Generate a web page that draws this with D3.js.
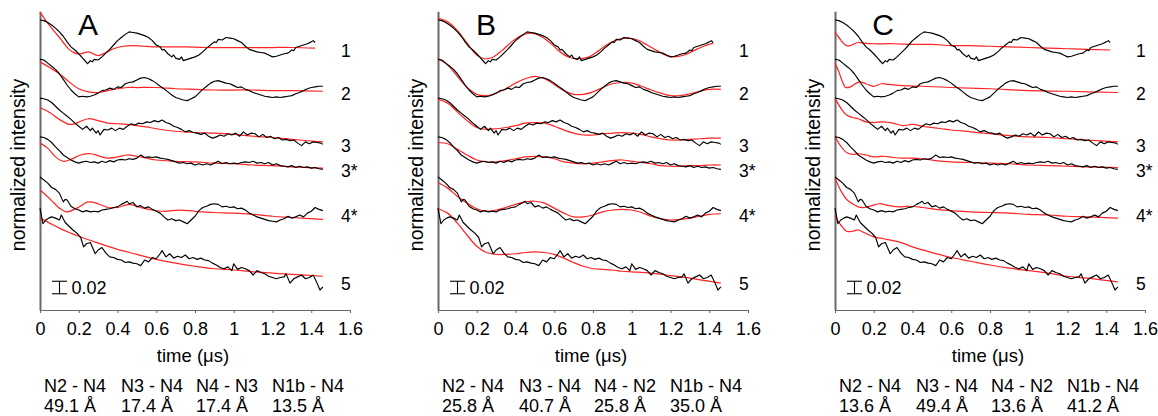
<!DOCTYPE html>
<html>
<head>
<meta charset="utf-8">
<script src="https://cdn.jsdelivr.net/npm/d3@7"></script>
<style>
  body { margin: 0; background: #fff; }
  text { font-family: "Liberation Sans", Arial, Helvetica, sans-serif; fill: #000; }
</style>
</head>
<body>
<svg id="chart" width="1158" height="416"></svg>
<script>
// ---- labels ----
const panelNames = ["A", "B", "C"];
const traceNames = ["1", "2", "3", "3*", "4*", "5"];
const timeTicks = [0, 0.2, 0.4, 0.6, 0.8, 1, 1.2, 1.4, 1.6];
const pairsA = ["N2 - N4", "N3 - N4", "N4 - N3", "N1b - N4"];
const pairsB = ["N2 - N4", "N3 - N4", "N4 - N2", "N1b - N4"];
const pairsC = ["N2 - N4", "N3 - N4", "N4 - N2", "N1b - N4"];
const distA = ["49.1 Å", "17.4 Å", "17.4 Å", "13.5 Å"];
const distB = ["25.8 Å", "40.7 Å", "25.8 Å", "35.0 Å"];
const distC = ["13.6 Å", "49.4 Å", "13.6 Å", "41.2 Å"];
const scaleBarValue = 0.02;

// ---- measured traces [time (µs), normalized intensity incl. stacking offset] ----
const exp1 = [[0,0.464],[0.02,0.463],[0.04,0.460],[0.06,0.456],[0.08,0.451],[0.10,0.445],[0.12,0.438],[0.14,0.429],[0.16,0.421],[0.18,0.416],[0.20,0.410],[0.22,0.403],[0.24,0.396],[0.245,0.394],[0.26,0.399],[0.27,0.397],[0.28,0.401],[0.30,0.400],[0.32,0.405],[0.34,0.411],[0.36,0.417],[0.38,0.424],[0.40,0.431],[0.42,0.436],[0.44,0.441],[0.46,0.445],[0.48,0.444],[0.50,0.443],[0.52,0.441],[0.54,0.439],[0.56,0.436],[0.58,0.431],[0.60,0.424],[0.62,0.421],[0.63,0.416],[0.64,0.417],[0.66,0.410],[0.68,0.405],[0.69,0.408],[0.70,0.403],[0.72,0.401],[0.73,0.405],[0.74,0.399],[0.76,0.401],[0.78,0.403],[0.80,0.405],[0.82,0.408],[0.84,0.413],[0.86,0.419],[0.88,0.424],[0.90,0.429],[0.91,0.428],[0.92,0.433],[0.94,0.432],[0.96,0.436],[0.98,0.435],[1.00,0.434],[1.02,0.431],[1.04,0.428],[1.06,0.422],[1.08,0.417],[1.10,0.415],[1.12,0.413],[1.14,0.412],[1.16,0.411],[1.18,0.408],[1.20,0.405],[1.22,0.406],[1.24,0.408],[1.26,0.410],[1.28,0.411],[1.30,0.416],[1.31,0.415],[1.32,0.420],[1.34,0.422],[1.36,0.424],[1.38,0.426],[1.40,0.429],[1.41,0.431],[1.42,0.428]];
const exp2 = [[0,0.401],[0.02,0.400],[0.04,0.395],[0.06,0.390],[0.08,0.385],[0.10,0.378],[0.12,0.369],[0.14,0.360],[0.16,0.352],[0.18,0.346],[0.20,0.341],[0.22,0.342],[0.24,0.341],[0.26,0.342],[0.28,0.344],[0.30,0.347],[0.32,0.351],[0.34,0.352],[0.36,0.355],[0.38,0.353],[0.40,0.357],[0.42,0.356],[0.44,0.362],[0.46,0.364],[0.48,0.365],[0.50,0.368],[0.52,0.371],[0.54,0.372],[0.56,0.370],[0.58,0.367],[0.60,0.363],[0.62,0.358],[0.64,0.354],[0.66,0.349],[0.68,0.344],[0.70,0.340],[0.72,0.338],[0.74,0.336],[0.76,0.335],[0.78,0.338],[0.80,0.341],[0.82,0.347],[0.84,0.353],[0.86,0.358],[0.88,0.363],[0.90,0.366],[0.92,0.367],[0.94,0.365],[0.96,0.363],[0.98,0.362],[1.00,0.359],[1.02,0.356],[1.04,0.357],[1.06,0.353],[1.08,0.351],[1.10,0.348],[1.12,0.346],[1.14,0.344],[1.16,0.342],[1.18,0.341],[1.20,0.340],[1.22,0.341],[1.24,0.340],[1.26,0.341],[1.28,0.342],[1.30,0.343],[1.32,0.346],[1.34,0.348],[1.36,0.351],[1.38,0.354],[1.40,0.356],[1.42,0.357],[1.44,0.358],[1.46,0.358]];
const exp3 = [[0,0.339],[0.02,0.338],[0.04,0.336],[0.06,0.332],[0.08,0.326],[0.10,0.320],[0.12,0.315],[0.14,0.310],[0.16,0.305],[0.18,0.299],[0.20,0.294],[0.22,0.289],[0.24,0.294],[0.26,0.287],[0.27,0.291],[0.29,0.283],[0.30,0.287],[0.31,0.280],[0.33,0.289],[0.35,0.288],[0.37,0.291],[0.39,0.287],[0.41,0.291],[0.43,0.289],[0.45,0.294],[0.47,0.298],[0.49,0.296],[0.51,0.299],[0.53,0.298],[0.55,0.301],[0.57,0.300],[0.59,0.303],[0.61,0.301],[0.63,0.304],[0.65,0.300],[0.67,0.298],[0.69,0.294],[0.71,0.292],[0.73,0.289],[0.75,0.285],[0.77,0.287],[0.79,0.284],[0.81,0.283],[0.83,0.281],[0.85,0.283],[0.87,0.278],[0.89,0.275],[0.91,0.277],[0.93,0.280],[0.95,0.278],[0.97,0.282],[0.99,0.280],[1.01,0.283],[1.03,0.278],[1.05,0.285],[1.07,0.280],[1.09,0.283],[1.11,0.282],[1.13,0.277],[1.15,0.281],[1.17,0.276],[1.19,0.278],[1.21,0.274],[1.23,0.276],[1.25,0.272],[1.27,0.273],[1.29,0.271],[1.31,0.272],[1.33,0.267],[1.35,0.263],[1.37,0.269],[1.39,0.266],[1.41,0.269],[1.43,0.268],[1.45,0.267],[1.46,0.265]];
const exp3s = [[0,0.277],[0.02,0.276],[0.04,0.273],[0.06,0.268],[0.08,0.261],[0.10,0.255],[0.12,0.248],[0.14,0.244],[0.16,0.240],[0.18,0.237],[0.20,0.235],[0.22,0.237],[0.24,0.238],[0.26,0.236],[0.28,0.237],[0.30,0.235],[0.32,0.238],[0.34,0.236],[0.36,0.239],[0.38,0.237],[0.40,0.240],[0.42,0.241],[0.44,0.240],[0.46,0.242],[0.48,0.241],[0.50,0.243],[0.52,0.248],[0.54,0.244],[0.56,0.245],[0.58,0.244],[0.60,0.245],[0.62,0.243],[0.64,0.242],[0.66,0.241],[0.68,0.239],[0.70,0.237],[0.72,0.235],[0.74,0.236],[0.76,0.234],[0.78,0.235],[0.80,0.232],[0.82,0.234],[0.84,0.232],[0.86,0.234],[0.88,0.232],[0.90,0.235],[0.92,0.238],[0.94,0.234],[0.96,0.236],[0.98,0.234],[1.00,0.235],[1.02,0.234],[1.04,0.236],[1.06,0.237],[1.08,0.236],[1.10,0.238],[1.12,0.235],[1.14,0.236],[1.16,0.234],[1.18,0.236],[1.20,0.232],[1.22,0.234],[1.24,0.231],[1.26,0.230],[1.28,0.229],[1.30,0.231],[1.32,0.228],[1.34,0.230],[1.36,0.228],[1.38,0.229],[1.40,0.227],[1.42,0.228],[1.44,0.226],[1.46,0.225]];
const exp4s = [[0,0.213],[0.02,0.208],[0.04,0.203],[0.06,0.196],[0.08,0.193],[0.10,0.187],[0.12,0.173],[0.13,0.177],[0.14,0.176],[0.16,0.166],[0.18,0.162],[0.20,0.160],[0.22,0.157],[0.24,0.159],[0.26,0.157],[0.28,0.158],[0.30,0.157],[0.32,0.160],[0.34,0.161],[0.36,0.162],[0.38,0.164],[0.40,0.165],[0.42,0.169],[0.44,0.172],[0.45,0.174],[0.46,0.170],[0.48,0.172],[0.50,0.165],[0.52,0.167],[0.54,0.163],[0.56,0.165],[0.58,0.161],[0.60,0.158],[0.62,0.155],[0.64,0.149],[0.66,0.144],[0.68,0.146],[0.70,0.143],[0.72,0.144],[0.74,0.141],[0.76,0.138],[0.78,0.144],[0.80,0.150],[0.82,0.159],[0.84,0.164],[0.86,0.166],[0.88,0.169],[0.90,0.170],[0.92,0.169],[0.94,0.165],[0.96,0.166],[0.98,0.164],[1.00,0.165],[1.02,0.162],[1.04,0.163],[1.06,0.160],[1.08,0.155],[1.10,0.152],[1.12,0.149],[1.14,0.147],[1.16,0.145],[1.18,0.143],[1.20,0.142],[1.22,0.141],[1.24,0.144],[1.26,0.146],[1.28,0.150],[1.30,0.147],[1.32,0.149],[1.34,0.152],[1.36,0.149],[1.38,0.155],[1.40,0.158],[1.42,0.164],[1.44,0.161],[1.46,0.159]];
const exp5 = [[0,0.163],[0.015,0.138],[0.03,0.144],[0.045,0.147],[0.06,0.149],[0.08,0.147],[0.10,0.144],[0.11,0.152],[0.13,0.140],[0.15,0.134],[0.17,0.128],[0.19,0.123],[0.21,0.116],[0.225,0.101],[0.24,0.106],[0.26,0.108],[0.285,0.090],[0.30,0.096],[0.32,0.100],[0.34,0.091],[0.36,0.085],[0.38,0.084],[0.40,0.081],[0.42,0.080],[0.44,0.076],[0.46,0.077],[0.48,0.075],[0.50,0.074],[0.52,0.071],[0.54,0.080],[0.56,0.077],[0.58,0.084],[0.60,0.082],[0.62,0.090],[0.63,0.095],[0.65,0.085],[0.67,0.090],[0.69,0.083],[0.71,0.086],[0.73,0.084],[0.75,0.088],[0.77,0.082],[0.79,0.084],[0.81,0.081],[0.83,0.083],[0.85,0.080],[0.87,0.079],[0.89,0.075],[0.91,0.072],[0.93,0.068],[0.95,0.066],[0.97,0.069],[0.99,0.063],[1.00,0.074],[1.02,0.065],[1.04,0.068],[1.06,0.066],[1.08,0.063],[1.10,0.056],[1.12,0.063],[1.14,0.060],[1.16,0.058],[1.18,0.054],[1.20,0.052],[1.22,0.050],[1.24,0.052],[1.26,0.053],[1.27,0.058],[1.29,0.043],[1.31,0.050],[1.33,0.053],[1.35,0.056],[1.37,0.050],[1.39,0.052],[1.41,0.056],[1.43,0.043],[1.445,0.032],[1.46,0.037]];

// ---- simulated fits, model A ----
const fitA1 = [[0,0.477],[0.03,0.463],[0.06,0.451],[0.09,0.440],[0.12,0.428],[0.15,0.417],[0.18,0.411],[0.21,0.410],[0.25,0.413],[0.30,0.407],[0.34,0.412],[0.38,0.418],[0.43,0.422],[0.48,0.423],[0.53,0.422],[0.58,0.421],[0.65,0.421],[0.75,0.421],[0.85,0.420],[1.0,0.420],[1.1,0.420],[1.2,0.420],[1.3,0.420],[1.42,0.419]];
const fitA2 = [[0,0.397],[0.05,0.388],[0.10,0.378],[0.15,0.365],[0.20,0.354],[0.25,0.349],[0.30,0.348],[0.35,0.351],[0.40,0.354],[0.45,0.356],[0.50,0.356],[0.60,0.356],[0.70,0.354],[0.80,0.353],[0.90,0.352],[1.0,0.352],[1.1,0.352],[1.2,0.351],[1.3,0.351],[1.46,0.350]];
const fitA3 = [[0,0.324],[0.05,0.316],[0.10,0.305],[0.15,0.297],[0.18,0.298],[0.21,0.302],[0.25,0.306],[0.30,0.303],[0.35,0.299],[0.40,0.298],[0.45,0.297],[0.50,0.295],[0.55,0.293],[0.60,0.290],[0.70,0.286],[0.80,0.284],[0.90,0.283],[1.0,0.281],[1.1,0.278],[1.2,0.276],[1.3,0.273],[1.46,0.269]];
const fitA3s = [[0,0.267],[0.04,0.259],[0.08,0.245],[0.12,0.238],[0.16,0.241],[0.21,0.248],[0.26,0.250],[0.30,0.247],[0.345,0.243],[0.40,0.245],[0.45,0.248],[0.50,0.246],[0.55,0.243],[0.60,0.240],[0.70,0.238],[0.80,0.237],[0.90,0.235],[1.0,0.234],[1.1,0.232],[1.2,0.231],[1.3,0.229],[1.46,0.227]];
const fitA4s = [[0,0.192],[0.03,0.184],[0.07,0.172],[0.10,0.163],[0.14,0.157],[0.19,0.163],[0.25,0.173],[0.30,0.170],[0.35,0.164],[0.40,0.164],[0.46,0.169],[0.52,0.164],[0.58,0.160],[0.64,0.158],[0.72,0.160],[0.80,0.158],[0.90,0.156],[1.0,0.155],[1.1,0.153],[1.2,0.150],[1.3,0.148],[1.46,0.145]];
const fitA5 = [[0,0.147],[0.05,0.139],[0.10,0.131],[0.15,0.124],[0.20,0.118],[0.30,0.107],[0.40,0.097],[0.50,0.089],[0.60,0.081],[0.70,0.075],[0.80,0.070],[0.90,0.066],[1.0,0.064],[1.1,0.061],[1.2,0.059],[1.3,0.057],[1.46,0.054]];

// ---- simulated fits, model B ----
const fitB1 = [[0,0.467],[0.05,0.461],[0.10,0.447],[0.15,0.427],[0.20,0.408],[0.24,0.402],[0.28,0.404],[0.33,0.415],[0.38,0.429],[0.43,0.439],[0.48,0.443],[0.53,0.438],[0.58,0.427],[0.63,0.413],[0.68,0.404],[0.73,0.402],[0.78,0.405],[0.83,0.415],[0.88,0.426],[0.93,0.433],[0.98,0.435],[1.03,0.432],[1.08,0.424],[1.13,0.415],[1.18,0.407],[1.22,0.405],[1.27,0.408],[1.32,0.415],[1.37,0.422],[1.42,0.427]];
const fitB2 = [[0,0.402],[0.05,0.392],[0.10,0.374],[0.15,0.356],[0.20,0.345],[0.25,0.343],[0.30,0.347],[0.35,0.354],[0.40,0.363],[0.45,0.370],[0.50,0.374],[0.55,0.370],[0.60,0.361],[0.65,0.351],[0.70,0.345],[0.75,0.345],[0.80,0.349],[0.85,0.356],[0.90,0.362],[0.95,0.364],[1.0,0.363],[1.05,0.358],[1.10,0.352],[1.15,0.347],[1.20,0.343],[1.25,0.343],[1.30,0.346],[1.35,0.350],[1.40,0.353],[1.46,0.353]];
const fitB3 = [[0,0.337],[0.05,0.331],[0.10,0.317],[0.15,0.303],[0.20,0.292],[0.25,0.289],[0.30,0.290],[0.35,0.292],[0.40,0.295],[0.45,0.299],[0.50,0.300],[0.55,0.299],[0.60,0.294],[0.65,0.288],[0.70,0.283],[0.75,0.280],[0.80,0.280],[0.85,0.282],[0.90,0.283],[0.95,0.284],[1.0,0.283],[1.05,0.281],[1.10,0.277],[1.15,0.274],[1.20,0.272],[1.25,0.272],[1.30,0.273],[1.35,0.274],[1.40,0.275],[1.46,0.275]];
const fitB3s = [[0,0.268],[0.05,0.266],[0.10,0.257],[0.15,0.248],[0.20,0.240],[0.25,0.237],[0.30,0.237],[0.35,0.239],[0.40,0.242],[0.45,0.245],[0.50,0.246],[0.55,0.245],[0.60,0.242],[0.65,0.237],[0.70,0.235],[0.75,0.234],[0.80,0.235],[0.85,0.237],[0.90,0.239],[0.95,0.240],[1.0,0.238],[1.05,0.236],[1.10,0.234],[1.15,0.231],[1.20,0.230],[1.25,0.230],[1.30,0.231],[1.35,0.231],[1.40,0.232],[1.46,0.232]];
const fitB4s = [[0,0.204],[0.05,0.195],[0.10,0.182],[0.15,0.171],[0.20,0.162],[0.25,0.158],[0.30,0.160],[0.35,0.164],[0.40,0.169],[0.45,0.173],[0.50,0.174],[0.55,0.171],[0.60,0.163],[0.65,0.155],[0.70,0.149],[0.75,0.149],[0.80,0.152],[0.85,0.157],[0.90,0.160],[0.95,0.161],[1.0,0.160],[1.05,0.156],[1.10,0.150],[1.15,0.146],[1.20,0.144],[1.25,0.145],[1.30,0.147],[1.35,0.150],[1.40,0.153],[1.46,0.154]];
const fitB5 = [[0,0.162],[0.05,0.155],[0.10,0.139],[0.15,0.120],[0.20,0.102],[0.25,0.092],[0.30,0.089],[0.35,0.089],[0.40,0.090],[0.45,0.092],[0.50,0.093],[0.55,0.092],[0.60,0.089],[0.65,0.083],[0.70,0.076],[0.75,0.070],[0.80,0.066],[0.85,0.065],[0.90,0.064],[0.95,0.062],[1.0,0.061],[1.1,0.059],[1.2,0.055],[1.3,0.051],[1.38,0.047],[1.46,0.043]];

// ---- simulated fits, model C ----
const fitC1 = [[0,0.444],[0.02,0.436],[0.04,0.428],[0.06,0.423],[0.08,0.423],[0.10,0.426],[0.12,0.428],[0.15,0.427],[0.20,0.426],[0.30,0.426],[0.40,0.425],[0.50,0.425],[0.60,0.423],[0.70,0.423],[0.80,0.422],[0.90,0.421],[1.0,0.420],[1.1,0.419],[1.2,0.418],[1.3,0.417],[1.42,0.416]];
const fitC2 = [[0,0.395],[0.02,0.381],[0.04,0.364],[0.055,0.356],[0.08,0.357],[0.11,0.363],[0.13,0.365],[0.16,0.362],[0.20,0.358],[0.24,0.362],[0.28,0.361],[0.35,0.359],[0.45,0.358],[0.6,0.356],[0.8,0.354],[1.0,0.351],[1.2,0.350],[1.46,0.348]];
const fitC3 = [[0,0.339],[0.03,0.323],[0.06,0.312],[0.09,0.308],[0.12,0.306],[0.16,0.301],[0.20,0.300],[0.25,0.301],[0.30,0.299],[0.35,0.295],[0.40,0.297],[0.45,0.294],[0.50,0.292],[0.55,0.290],[0.60,0.288],[0.70,0.285],[0.80,0.282],[0.90,0.279],[1.0,0.277],[1.1,0.276],[1.2,0.274],[1.3,0.272],[1.46,0.269]];
const fitC3s = [[0,0.278],[0.03,0.262],[0.06,0.252],[0.09,0.249],[0.12,0.250],[0.16,0.248],[0.20,0.245],[0.25,0.246],[0.30,0.244],[0.35,0.243],[0.40,0.243],[0.45,0.242],[0.50,0.240],[0.60,0.237],[0.70,0.236],[0.80,0.235],[0.90,0.234],[1.0,0.232],[1.1,0.231],[1.2,0.230],[1.3,0.229],[1.46,0.228]];
const fitC4s = [[0,0.211],[0.03,0.191],[0.06,0.177],[0.09,0.170],[0.12,0.165],[0.15,0.164],[0.19,0.167],[0.23,0.170],[0.28,0.167],[0.33,0.165],[0.38,0.166],[0.45,0.164],[0.52,0.161],[0.60,0.159],[0.70,0.157],[0.80,0.156],[0.90,0.155],[1.0,0.153],[1.1,0.152],[1.2,0.150],[1.3,0.149],[1.46,0.147]];
const fitC5 = [[0,0.150],[0.03,0.136],[0.06,0.126],[0.09,0.126],[0.12,0.128],[0.15,0.124],[0.20,0.117],[0.25,0.114],[0.30,0.111],[0.35,0.107],[0.40,0.101],[0.50,0.092],[0.60,0.084],[0.70,0.078],[0.80,0.072],[0.90,0.067],[1.0,0.063],[1.1,0.059],[1.2,0.054],[1.3,0.051],[1.46,0.045]];

// ---- assemble panels ----
const measured = [exp1, exp2, exp3, exp3s, exp4s, exp5];
const panels = [
  { name: panelNames[0], left: 40,    fits: [fitA1, fitA2, fitA3, fitA3s, fitA4s, fitA5], pairs: pairsA, dists: distA },
  { name: panelNames[1], left: 438,   fits: [fitB1, fitB2, fitB3, fitB3s, fitB4s, fitB5], pairs: pairsB, dists: distB },
  { name: panelNames[2], left: 835,   fits: [fitC1, fitC2, fitC3, fitC3s, fitC4s, fitC5], pairs: pairsC, dists: distC }
];

// ---- layout ----
const plotWidth = 310;
const y = d3.scaleLinear().domain([0, 0.496]).range([310, 0]);
const axisTop = 0.478;
const traceLabelY = [57, 100, 152, 177, 222, 290];
const pairColumns = [4, 81, 156, 232];
const barBase = 0.026;

const svg = d3.select("#chart");

panels.forEach(p => {
  const x = d3.scaleLinear().domain([0, 1.6]).range([p.left, p.left + plotWidth]);
  const g = svg.append("g");

  // x axis
  const xAxis = g.append("g")
    .attr("transform", `translate(0,${y(0)})`)
    .call(d3.axisBottom(x).tickValues(timeTicks).tickSizeInner(3).tickSizeOuter(0)
      .tickPadding(9).tickFormat(d3.format("~g")));
  xAxis.select(".domain").attr("stroke", "#666").attr("stroke-width", 1.2);
  xAxis.selectAll(".tick line").attr("stroke", "#666");
  xAxis.selectAll(".tick text").attr("font-size", 18).attr("fill", "#000")
    .style("font-family", '"Liberation Sans", Arial, sans-serif');

  // y axis (no ticks)
  const yAxisScale = d3.scaleLinear().domain([0, axisTop]).range([y(0), y(axisTop)]);
  const yAxis = g.append("g")
    .attr("transform", `translate(${x(0)},0)`)
    .call(d3.axisLeft(yAxisScale).tickValues([]).tickSizeOuter(0));
  yAxis.select(".domain").attr("stroke", "#6a6a6a").attr("stroke-width", 2);

  // axis titles
  g.append("text")
    .attr("transform", `translate(${x(0) - 15},165) rotate(-90)`)
    .attr("text-anchor", "middle")
    .attr("font-size", 19.5)
    .text("normalized intensity");
  g.append("text")
    .attr("x", x(0.8) - 2).attr("y", 361.5)
    .attr("text-anchor", "middle")
    .attr("font-size", 18.5)
    .text("time (\u03bcs)");

  // panel letter
  g.append("text")
    .attr("x", x(0) + 48).attr("y", 35)
    .attr("text-anchor", "middle")
    .attr("font-size", 30)
    .text(p.name);

  const line = d3.line().x(d => x(d[0])).y(d => y(d[1]));
  const smooth = d3.line().x(d => x(d[0])).y(d => y(d[1])).curve(d3.curveCatmullRom.alpha(0.5));

  // fits (red) beneath the data (black)
  g.selectAll("path.fit").data(p.fits).join("path")
    .attr("class", "fit")
    .attr("d", smooth)
    .attr("fill", "none")
    .attr("stroke", "#ff2424")
    .attr("stroke-width", 1.25);
  g.selectAll("path.data").data(measured).join("path")
    .attr("class", "data")
    .attr("d", line)
    .attr("fill", "none")
    .attr("stroke", "#000")
    .attr("stroke-width", 1.15)
    .attr("stroke-linejoin", "round");

  // trace labels
  g.selectAll("text.trace").data(traceNames).join("text")
    .attr("class", "trace")
    .attr("x", x(0) + 301)
    .attr("y", (d, i) => traceLabelY[i])
    .attr("font-size", 17.5)
    .text(d => d);

  // scale bar
  const bx = x(0) + 19.5;
  const y0 = y(barBase), y1 = y(barBase + scaleBarValue);
  const bar = g.append("g").attr("stroke", "#000").attr("stroke-width", 1.1);
  bar.append("line").attr("x1", bx).attr("x2", bx).attr("y1", y0).attr("y2", y1);
  bar.append("line").attr("x1", bx - 7.5).attr("x2", bx + 7.5).attr("y1", y0).attr("y2", y0);
  bar.append("line").attr("x1", bx - 7.5).attr("x2", bx + 7.5).attr("y1", y1).attr("y2", y1);
  g.append("text")
    .attr("x", x(0) + 31.5).attr("y", y0)
    .attr("font-size", 18)
    .text(d3.format(".2f")(scaleBarValue));

  // distance table under the panel
  p.pairs.forEach((s, i) => {
    g.append("text").attr("x", x(0) + pairColumns[i]).attr("y", 391.5)
      .attr("font-size", 18).text(s);
    g.append("text").attr("x", x(0) + pairColumns[i]).attr("y", 411.5)
      .attr("font-size", 18).text(p.dists[i]);
  });
});
</script>
</body>
</html>
